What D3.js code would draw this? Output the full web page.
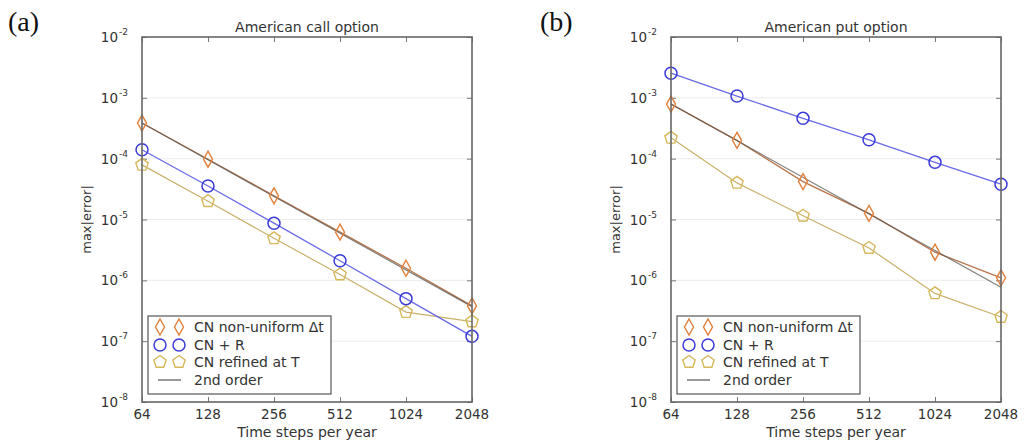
<!DOCTYPE html>
<html>
<head>
<meta charset="utf-8">
<script src="https://cdn.jsdelivr.net/npm/d3@7/dist/d3.min.js"></script>
<style>
  html, body { margin: 0; padding: 0; background: #fff; }
  svg { display: block; }
  text { font-family: "DejaVu Sans", sans-serif; fill: #333; }
</style>
</head>
<body>
<svg id="chart" width="1027" height="448"></svg>
<script>
// ---- data ----
const steps = [64, 128, 256, 512, 1024, 2048];
const xTickLabels = ["64", "128", "256", "512", "1024", "2048"];
const yTicks = [1e-2, 1e-3, 1e-4, 1e-5, 1e-6, 1e-7, 1e-8];
const yTickExps = ["-2", "-3", "-4", "-5", "-6", "-7", "-8"];
const seriesNames = ["CN non-uniform \u0394t", "CN + R", "CN refined at T", "2nd order"];

// (a) American call option
const callNonUniform = [3.85e-4, 9.8e-5, 2.45e-5, 6.2e-6, 1.58e-6, 3.8e-7];
const callCNR        = [1.40e-4, 3.55e-5, 8.7e-6, 2.1e-6, 5.0e-7, 1.2e-7];
const callRefined    = [7.9e-5, 2.0e-5, 4.9e-6, 1.25e-6, 3.0e-7, 2.1e-7];
const callSecond     = [3.85e-4, 3.7e-7];   // at 64 and 2048

// (b) American put option
const putNonUniform = [7.9e-4, 2.0e-4, 4.2e-5, 1.26e-5, 2.9e-6, 1.1e-6];
const putCNR        = [2.54e-3, 1.07e-3, 4.6e-4, 2.04e-4, 8.7e-5, 3.8e-5];
const putRefined    = [2.2e-4, 4.0e-5, 1.15e-5, 3.4e-6, 6.1e-7, 2.5e-7];
const putSecond     = [7.9e-4, 7.7e-7];

const panels = [
  { label: "(a)", title: "American call option", left: 142, labelX: 8,
    nonUniform: callNonUniform, cnr: callCNR, refined: callRefined, second: callSecond },
  { label: "(b)", title: "American put option", left: 671, labelX: 540,
    nonUniform: putNonUniform, cnr: putCNR, refined: putRefined, second: putSecond }
];

const colors = {
  orange: "#e0803a", orangeLine: "#b8744a",
  blue: "#3a3ad8", blueLine: "#6a6ae8",
  yellow: "#d6b85a", yellowLine: "#c9b06a",
  second: "#5a5550"
};

const svg = d3.select("#chart");
const W = 330, plotTop = 37, plotBottom = 402;

function diamondPath(cx, cy) {
  return `M${cx},${cy - 8}L${cx + 4.5},${cy}L${cx},${cy + 8}L${cx - 4.5},${cy}Z`;
}
function pentagonPath(cx, cy, r) {
  const pts = d3.range(5).map(i => {
    const a = -Math.PI / 2 + i * 2 * Math.PI / 5;
    return [cx + r * Math.cos(a), cy + r * Math.sin(a)];
  });
  return "M" + pts.map(p => p.join(",")).join("L") + "Z";
}

panels.forEach(p => {
  const x = d3.scaleLog().base(2).domain([64, 2048]).range([p.left, p.left + W]);
  const y = d3.scaleLog().domain([1e-8, 1e-2]).range([plotBottom, plotTop]);
  const g = svg.append("g");

  // gridlines
  g.append("g").selectAll("line").data(yTicks.slice(1, -1)).join("line")
    .attr("x1", p.left).attr("x2", p.left + W)
    .attr("y1", d => y(d)).attr("y2", d => y(d))
    .attr("stroke", "#ececec").attr("stroke-width", 1);

  // inward ticks on all sides using d3 axes
  const axB = d3.axisBottom(x).tickValues(steps).tickSizeInner(-5).tickSizeOuter(0).tickFormat("");
  const axT = d3.axisTop(x).tickValues(steps).tickSizeInner(-5).tickSizeOuter(0).tickFormat("");
  const axL = d3.axisLeft(y).tickValues(yTicks).tickSizeInner(-5).tickSizeOuter(0).tickFormat("");
  const axR = d3.axisRight(y).tickValues(yTicks).tickSizeInner(-5).tickSizeOuter(0).tickFormat("");
  [[axB, `translate(0,${plotBottom})`], [axT, `translate(0,${plotTop})`],
   [axL, `translate(${p.left},0)`], [axR, `translate(${p.left + W},0)`]].forEach(([ax, tr]) => {
    const a = g.append("g").attr("transform", tr).call(ax);
    a.select(".domain").remove();
    a.selectAll("line").attr("stroke", "#777").attr("stroke-width", 1);
  });

  // series
  const line = d3.line().x((d, i) => x(steps[i])).y(d => y(d));
  g.append("path").datum(p.refined).attr("d", line).attr("fill", "none")
    .attr("stroke", colors.yellowLine).attr("stroke-width", 1.2);
  g.append("path").datum(p.cnr).attr("d", line).attr("fill", "none")
    .attr("stroke", colors.blueLine).attr("stroke-width", 1.3);
  g.append("path").datum(p.nonUniform).attr("d", line).attr("fill", "none")
    .attr("stroke", colors.orangeLine).attr("stroke-width", 1.3);
  g.append("path").datum(p.second)
    .attr("d", d3.line().x((d, i) => x(i === 0 ? 64 : 2048)).y(d => y(d)))
    .attr("fill", "none").attr("stroke", colors.second).attr("stroke-width", 1.2).attr("opacity", 0.75);

  // markers
  g.append("g").selectAll("path").data(p.refined).join("path")
    .attr("d", (d, i) => pentagonPath(x(steps[i]), y(d), 6.5))
    .attr("fill", "none").attr("stroke", colors.yellow).attr("stroke-width", 1.4);
  g.append("g").selectAll("circle").data(p.cnr).join("circle")
    .attr("cx", (d, i) => x(steps[i])).attr("cy", d => y(d)).attr("r", 6)
    .attr("fill", "none").attr("stroke", colors.blue).attr("stroke-width", 1.5);
  g.append("g").selectAll("path").data(p.nonUniform).join("path")
    .attr("d", (d, i) => diamondPath(x(steps[i]), y(d)))
    .attr("fill", "none").attr("stroke", colors.orange).attr("stroke-width", 1.4);

  // frame
  g.append("rect").attr("x", p.left).attr("y", plotTop).attr("width", W).attr("height", plotBottom - plotTop)
    .attr("fill", "none").attr("stroke", "#666").attr("stroke-width", 1.6);

  // x tick labels
  g.append("g").selectAll("text").data(steps).join("text")
    .attr("x", d => x(d)).attr("y", 419).attr("text-anchor", "middle")
    .attr("font-size", 13.5).text((d, i) => xTickLabels[i]);

  // y tick labels
  const yl = g.append("g").selectAll("text").data(yTicks).join("text")
    .attr("x", p.left - 14).attr("y", d => y(d) + 5).attr("text-anchor", "end")
    .attr("font-size", 13.5);
  yl.append("tspan").text("10");
  yl.append("tspan").attr("dx", 1).attr("dy", -7).attr("font-size", 9)
    .text((d, i) => yTickExps[i]);

  // axis titles
  g.append("text").attr("x", p.left + W / 2).attr("y", 437).attr("text-anchor", "middle")
    .attr("font-size", 14).text("Time steps per year");
  g.append("text").attr("transform", `translate(${p.left - 51},${(plotTop + plotBottom) / 2}) rotate(-90)`)
    .attr("text-anchor", "middle").attr("font-size", 13).text("max|error|");
  g.append("text").attr("x", p.left + W / 2).attr("y", 32).attr("text-anchor", "middle")
    .attr("font-size", 14).text(p.title);

  // panel label
  svg.append("text").attr("x", p.labelX).attr("y", 31)
    .attr("font-size", 28)
    .style("font-family", "'Liberation Serif', serif").style("fill", "#111").text(p.label);

  // legend
  const lx = p.left + 6, ly = 316;
  const lg = g.append("g");
  lg.append("rect").attr("x", lx).attr("y", ly).attr("width", 183).attr("height", 78)
    .attr("fill", "#fff").attr("stroke", "#555").attr("stroke-width", 1.2);
  const rows = [327, 345, 362, 380];
  const m1 = lx + 12, m2 = lx + 31;
  [m1, m2].forEach(mx => {
    lg.append("path").attr("d", diamondPath(mx, rows[0])).attr("fill", "none")
      .attr("stroke", colors.orange).attr("stroke-width", 1.4);
    lg.append("circle").attr("cx", mx).attr("cy", rows[1]).attr("r", 6).attr("fill", "none")
      .attr("stroke", colors.blue).attr("stroke-width", 1.5);
    lg.append("path").attr("d", pentagonPath(mx, rows[2], 6.5)).attr("fill", "none")
      .attr("stroke", colors.yellow).attr("stroke-width", 1.4);
  });
  lg.append("line").attr("x1", m1 - 2).attr("x2", m2 + 2).attr("y1", rows[3]).attr("y2", rows[3])
    .attr("stroke", "#999").attr("stroke-width", 2);
  lg.selectAll("text.leg").data(seriesNames).join("text").attr("class", "leg")
    .attr("x", lx + 46).attr("y", (d, i) => rows[i] + 5).attr("font-size", 14).text(d => d);
});
</script>
</body>
</html>
